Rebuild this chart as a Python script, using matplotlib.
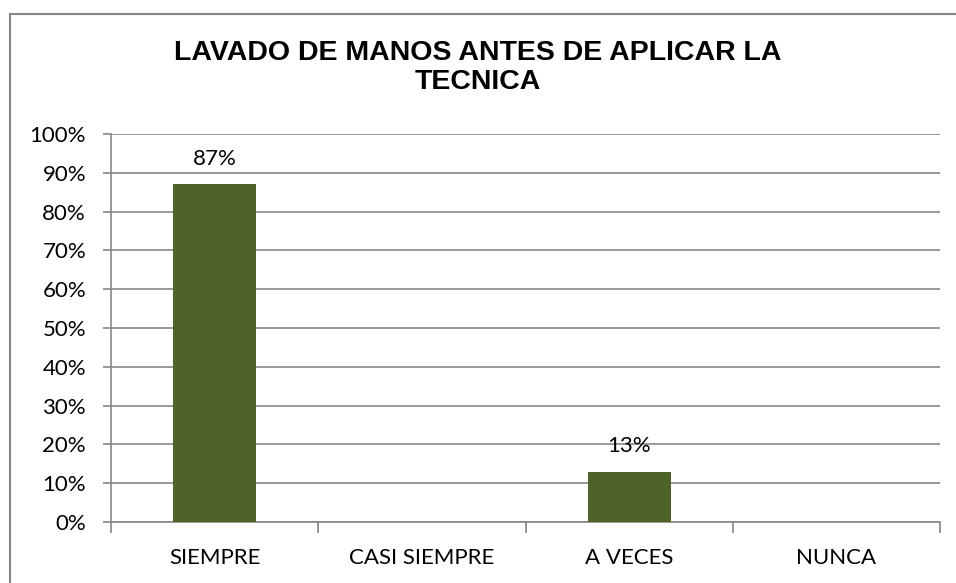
import matplotlib
matplotlib.use("Agg")
import matplotlib.pyplot as plt
from matplotlib.patches import Rectangle
from matplotlib.ticker import FixedLocator, PercentFormatter

# Data
categories = ["SIEMPRE", "CASI SIEMPRE", "A VECES", "NUNCA"]
values     = [0.87, 0.0, 0.13, 0.0]
yticks     = [i / 10 for i in range(11)]

BAR_COLOR  = "#4F6228"
GRID_COLOR = "#868686"
LABEL_FONT = "Lato"

fig = plt.figure(figsize=(9.56, 5.83), dpi=100)
ax = fig.add_axes([111 / 956, 61 / 583, 829 / 956, 388 / 583])

x = list(range(len(categories)))
bars = ax.bar(x, values, width=0.40, color=BAR_COLOR, zorder=3)

# data labels only on non-zero bars
for xi, v in zip(x, values):
    if v > 0:
        ax.annotate(f"{v:.0%}", (xi, v), xytext=(0, 11), textcoords="offset points",
                    ha="center", va="bottom", fontsize=16, family=LABEL_FONT)

ax.set_xlim(-0.5, len(categories) - 0.5)
ax.set_ylim(0, 1)
ax.set_yticks(yticks)
ax.yaxis.set_major_formatter(PercentFormatter(1.0, decimals=0))
ax.grid(axis="y", color=GRID_COLOR, linewidth=1.2, zorder=0)

ax.set_xticks(x)
ax.set_xticklabels(categories)
ax.xaxis.set_minor_locator(FixedLocator([i - 0.5 for i in range(len(categories) + 1)]))
ax.tick_params(axis="x", which="major", length=0, pad=19, labelsize=16)
ax.tick_params(axis="x", which="minor", length=8, width=1.2, color=GRID_COLOR)
ax.tick_params(axis="y", length=6, width=1.2, color=GRID_COLOR, pad=12, labelsize=16)
for lbl in ax.get_xticklabels() + ax.get_yticklabels():
    lbl.set_family(LABEL_FONT)

for side in ["top", "right"]:
    ax.spines[side].set_visible(False)
for side in ["left", "bottom"]:
    ax.spines[side].set_color(GRID_COLOR)
    ax.spines[side].set_linewidth(1.2)

fig.text(0.5, 0.884, "LAVADO DE MANOS ANTES DE APLICAR LA\nTECNICA",
         ha="center", va="center", fontsize=20.5, fontweight="bold",
         family="Liberation Sans", linespacing=1.15)

# chart frame (runs off the right and bottom edges in the original)
fig.patches.append(Rectangle((10 / 956, -0.05), 1.2, 1 - 14 / 583 + 0.05,
                             transform=fig.transFigure, fill=False,
                             edgecolor=GRID_COLOR, linewidth=1.5))

fig.savefig("out.png", dpi=100)
